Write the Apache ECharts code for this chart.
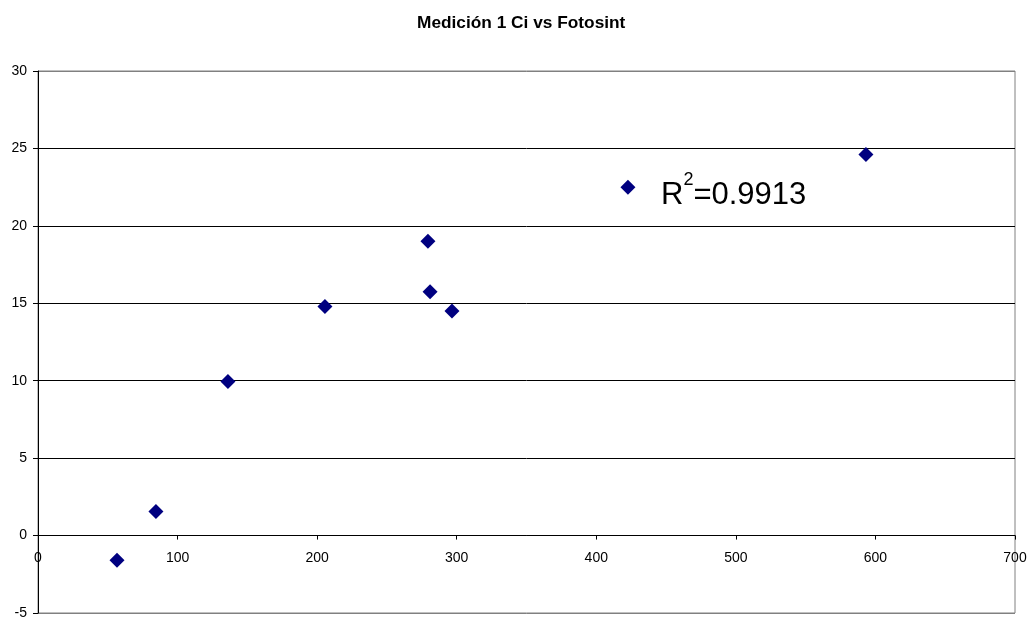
<!DOCTYPE html>
<html><head><meta charset="utf-8">
<script src="https://cdn.jsdelivr.net/npm/echarts@6/dist/echarts.min.js"></script>
<style>html,body{margin:0;padding:0;background:#fff}#c{width:1029px;height:619px}</style>
</head><body><div id="c"></div>
<script>
const ciValues = [56.6, 84.5, 136.1, 205.6, 279.4, 280.9, 296.6, 422.7, 593.2];
const fotoValues = [-1.6, 1.55, 9.95, 14.8, 19.0, 15.75, 14.5, 22.5, 24.6];
const titleText = 'Medición 1 Ci vs Fotosint';
const r2Text = '0.9913';

const chart = echarts.init(document.getElementById('c'));
const F = 'Liberation Sans, Arial, sans-serif';
chart.setOption({
  animation: false,
  backgroundColor: '#fff',
  title: [
    { text: titleText, left: 412, top: 10,
      textStyle: { fontFamily: F, fontSize: 17.3, fontWeight: 'bold', color: '#000' } },
    { text: '{a|R}{b|2}{a|=' + r2Text + '}', left: 656, top: 166,
      textStyle: { fontWeight: 'normal', rich: {
        a: { fontFamily: F, fontSize: 31, fontWeight: 'normal', color: '#000', lineHeight: 40, verticalAlign: 'bottom' },
        b: { fontFamily: F, fontSize: 18, fontWeight: 'normal', color: '#000', lineHeight: 40, verticalAlign: 'top', padding: [0,0,14,0] }
      } } }
  ],
  grid: [
    { left: 38, right: 14, top: 71, bottom: 6, show: true, borderColor: '#808080', borderWidth: 1, backgroundColor: '#fff', outerBoundsMode: 'none', containLabel: false },
    { left: 38, right: 14, top: 71, height: 465, show: false, outerBoundsMode: 'none', containLabel: false }
  ],
  xAxis: [{
    type: 'value', min: 0, max: 700, interval: 100, gridIndex: 0,
    axisLine: { show: true, onZero: true, lineStyle: { color: '#000', width: 1 } },
    axisTick: { show: true, inside: false, length: 4, lineStyle: { color: '#000' } },
    axisLabel: { show: false },
    splitLine: { show: false }
  }, {
    type: 'value', min: 0, max: 700, interval: 100, gridIndex: 1, position: 'bottom',
    axisLine: { show: false, onZero: false },
    axisTick: { show: false },
    axisLabel: { fontFamily: F, fontSize: 14, color: '#000', margin: 15 },
    splitLine: { show: false }
  }],
  yAxis: [{
    type: 'value', min: -5, max: 30, interval: 5, gridIndex: 0,
    axisLine: { show: true, onZero: false, lineStyle: { color: '#000', width: 1 } },
    axisTick: { show: true, length: 5, lineStyle: { color: '#000' } },
    axisLabel: { fontFamily: F, fontSize: 14, color: '#000', margin: 11 },
    splitLine: { show: true, lineStyle: { color: ['#808080', '#000', '#000', '#000', '#000', '#000', '#000', '#808080'], width: 1 } }
  }, {
    type: 'value', min: 0, max: 1, gridIndex: 1, show: false
  }],
  series: [{
    type: 'scatter',
    xAxisIndex: 0, yAxisIndex: 0,
    symbol: 'diamond',
    symbolSize: 15,
    itemStyle: { color: '#000080', opacity: 1 },
    emphasis: { disabled: true },
    data: ciValues.map((x, i) => [x, fotoValues[i]])
  }]
});
</script></body></html>
